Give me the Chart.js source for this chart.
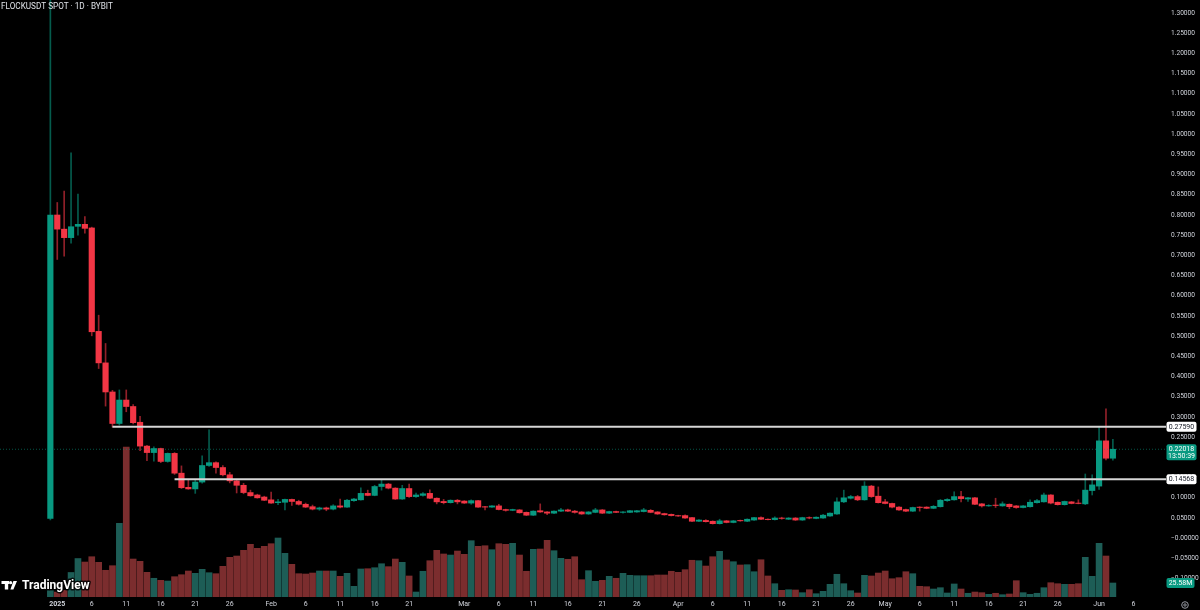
<!DOCTYPE html>
<html><head><meta charset="utf-8">
<script src="https://cdn.jsdelivr.net/npm/chart.js@4.4.1/dist/chart.umd.min.js"></script>
<style>html,body{margin:0;padding:0;background:#000;overflow:hidden}#wrap{width:1200px;height:610px}canvas{display:block}</style>
</head><body><div id="wrap"><canvas id="c" width="1200" height="610"></canvas></div>
<script>
const chartTitle = 'FLOCKUSDT SPOT \u00b7 1D \u00b7 BYBIT';
const firstDay = -1; // 31 Dec 2024, days counted from 1 Jan 2025
const opens = [
 0.049,0.800,0.765,0.744,0.772,0.777,0.768,0.512,0.434,0.362,
 0.284,0.342,0.326,0.287,0.228,0.212,0.222,0.190,0.210,0.161,
 0.126,0.122,0.139,0.180,0.187,0.175,0.157,0.142,0.131,0.113,
 0.107,0.102,0.095,0.088,0.089,0.096,0.091,0.084,0.078,0.072,
 0.075,0.072,0.080,0.077,0.093,0.095,0.111,0.106,0.128,0.134,
 0.124,0.097,0.123,0.103,0.106,0.111,0.099,0.091,0.088,0.094,
 0.092,0.087,0.093,0.078,0.077,0.080,0.071,0.069,0.070,0.064,
 0.057,0.068,0.065,0.062,0.067,0.070,0.067,0.065,0.060,0.064,
 0.070,0.062,0.066,0.064,0.064,0.065,0.066,0.069,0.065,0.061,
 0.059,0.056,0.056,0.051,0.042,0.044,0.042,0.036,0.043,0.039,
 0.044,0.042,0.045,0.051,0.047,0.046,0.050,0.047,0.050,0.045,
 0.051,0.049,0.050,0.055,0.060,0.090,0.099,0.103,0.095,0.129,
 0.104,0.090,0.086,0.077,0.071,0.067,0.077,0.077,0.074,0.078,
 0.093,0.095,0.103,0.097,0.100,0.085,0.080,0.082,0.080,0.084,
 0.080,0.076,0.078,0.088,0.090,0.107,0.089,0.083,0.090,0.087,
 0.085,0.118,0.129,0.241,0.198];
const highs = [
 1.340,0.831,0.859,0.954,0.852,0.796,0.770,0.552,0.482,0.366,
 0.367,0.367,0.331,0.302,0.230,0.226,0.223,0.211,0.212,0.179,
 0.146,0.145,0.204,0.268,0.189,0.180,0.163,0.145,0.136,0.119,
 0.109,0.104,0.114,0.096,0.097,0.097,0.094,0.087,0.082,0.077,
 0.077,0.083,0.097,0.096,0.099,0.125,0.119,0.131,0.144,0.136,
 0.125,0.131,0.134,0.112,0.113,0.120,0.100,0.096,0.095,0.096,
 0.093,0.095,0.094,0.079,0.081,0.084,0.072,0.072,0.071,0.065,
 0.068,0.085,0.066,0.068,0.074,0.072,0.069,0.066,0.066,0.074,
 0.071,0.067,0.067,0.066,0.069,0.069,0.074,0.071,0.066,0.062,
 0.060,0.057,0.058,0.052,0.046,0.046,0.043,0.047,0.044,0.044,
 0.045,0.048,0.052,0.053,0.048,0.053,0.052,0.051,0.051,0.052,
 0.053,0.053,0.059,0.063,0.100,0.119,0.106,0.106,0.140,0.131,
 0.127,0.096,0.087,0.078,0.072,0.077,0.078,0.078,0.081,0.096,
 0.098,0.115,0.116,0.101,0.101,0.086,0.083,0.099,0.090,0.085,
 0.081,0.081,0.095,0.096,0.112,0.108,0.090,0.092,0.091,0.095,
 0.159,0.157,0.275,0.320,0.245];
const lows = [
 0.045,0.690,0.698,0.730,0.750,0.755,0.501,0.420,0.327,0.275,
 0.280,0.313,0.283,0.217,0.192,0.191,0.187,0.188,0.158,0.123,
 0.121,0.111,0.136,0.178,0.161,0.154,0.137,0.112,0.110,0.104,
 0.099,0.093,0.086,0.083,0.070,0.081,0.082,0.076,0.070,0.069,
 0.068,0.070,0.075,0.076,0.091,0.094,0.105,0.105,0.119,0.122,
 0.096,0.096,0.101,0.101,0.104,0.098,0.085,0.085,0.087,0.085,
 0.086,0.084,0.076,0.070,0.076,0.070,0.067,0.068,0.062,0.056,
 0.056,0.064,0.058,0.061,0.066,0.066,0.062,0.059,0.059,0.063,
 0.061,0.061,0.063,0.062,0.063,0.064,0.065,0.063,0.059,0.057,
 0.055,0.054,0.049,0.041,0.041,0.040,0.035,0.035,0.038,0.038,
 0.042,0.041,0.044,0.046,0.045,0.045,0.047,0.046,0.044,0.044,
 0.048,0.048,0.049,0.054,0.059,0.088,0.097,0.093,0.094,0.101,
 0.087,0.085,0.075,0.069,0.066,0.066,0.067,0.073,0.073,0.077,
 0.091,0.094,0.090,0.091,0.083,0.077,0.079,0.076,0.079,0.073,
 0.074,0.075,0.077,0.087,0.089,0.085,0.082,0.082,0.085,0.085,
 0.083,0.107,0.121,0.194,0.193];
const closes = [
 0.800,0.765,0.744,0.771,0.777,0.767,0.511,0.434,0.362,0.284,
 0.342,0.326,0.286,0.228,0.212,0.222,0.190,0.210,0.161,0.125,
 0.122,0.139,0.180,0.187,0.175,0.157,0.142,0.131,0.113,0.105,
 0.100,0.094,0.087,0.090,0.096,0.091,0.084,0.077,0.072,0.075,
 0.072,0.080,0.077,0.094,0.097,0.111,0.106,0.128,0.134,0.124,
 0.097,0.123,0.103,0.107,0.110,0.099,0.090,0.088,0.094,0.090,
 0.087,0.093,0.077,0.077,0.080,0.071,0.069,0.071,0.063,0.057,
 0.067,0.065,0.062,0.067,0.070,0.067,0.064,0.060,0.065,0.070,
 0.062,0.066,0.064,0.065,0.068,0.068,0.070,0.064,0.060,0.058,
 0.056,0.055,0.050,0.042,0.045,0.041,0.036,0.043,0.039,0.043,
 0.043,0.047,0.051,0.047,0.046,0.050,0.049,0.050,0.045,0.051,
 0.050,0.052,0.057,0.062,0.090,0.100,0.103,0.095,0.129,0.103,
 0.088,0.086,0.077,0.070,0.067,0.076,0.076,0.074,0.079,0.094,
 0.096,0.103,0.098,0.100,0.084,0.080,0.081,0.081,0.085,0.078,
 0.076,0.080,0.089,0.093,0.107,0.087,0.083,0.091,0.086,0.086,
 0.119,0.132,0.241,0.198,0.22018];
const volumes = [ // millions
 12.2,9.1,12.2,44.8,70.3,63.9,73.6,63.4,48.8,57.2,
 134.6,274.1,69.4,65.2,45.1,34.2,30.5,29.2,37.1,40.7,
 47.5,43.3,50.6,44.4,42.6,56.1,72.5,74.9,85.3,96.3,
 89.0,92.6,97.4,107.8,79.8,59.7,42.6,42.0,43.8,47.5,
 47.5,47.5,37.8,43.3,19.5,51.2,51.7,53.5,60.8,55.4,
 69.4,63.4,38.4,9.1,47.0,66.3,85.3,78.6,76.7,84.0,
 78.0,102.9,92.6,93.7,86.4,97.4,96.3,98.1,76.7,47.0,
 87.1,87.7,103.6,84.6,70.7,68.9,73.6,31.6,48.1,28.7,
 30.5,37.8,34.2,43.3,39.6,38.9,38.9,38.9,40.2,40.2,
 47.0,45.1,49.9,67.1,66.3,56.6,73.6,83.5,67.6,64.5,
 58.5,59.0,46.2,68.1,38.4,24.3,12.2,13.3,12.8,7.9,
 13.3,6.0,10.4,23.2,41.5,24.3,11.5,7.3,39.6,38.4,
 43.8,47.5,33.4,35.3,46.2,42.6,19.5,18.8,14.6,17.0,
 7.3,23.8,14.6,6.8,9.1,7.9,4.9,6.8,4.2,5.5,
 29.8,7.9,4.9,6.8,17.0,26.1,24.3,23.2,23.2,24.3,
 72.5,37.8,98.1,74.9,25.58];
const tickDays   = [0,5,10,15,20,25,31,36,41,46,51,59,64,69,74,79,84,90,95,100,105,110,115,120,125,130,135,140,145,151,156];
const tickLabels = ['2025','6','11','16','21','26','Feb','6','11','16','21','Mar','6','11','16','21','26','Apr','6','11','16','21','26','May','6','11','16','21','26','Jun','6'];
const priceTicks = [-0.10,-0.05,0,0.05,0.10,0.15,0.20,0.25,0.30,0.35,0.40,0.45,0.50,0.55,0.60,0.65,0.70,0.75,0.80,0.85,0.90,0.95,1.00,1.05,1.10,1.15,1.20,1.25,1.30];
const levelValues = [0.27590, 0.14568];
const levelStartDays = [8, 17];
const countdownText = '13:50:39';
const volumeTagText = '25.58M';

const FONT = 'Roboto, "Liberation Sans", sans-serif';
const GREEN = '#089981', RED = '#f23645';
const GREEN_WICK = 'rgba(8,153,129,0.6)', RED_WICK = 'rgba(242,54,69,0.6)';
const GREEN_VOL = '#1d5d56', RED_VOL = '#7b2d2e';
const X_MIN = -8.3, X_MAX = 160.7;

const days = opens.map((_, i) => firstDay + i);
const up = opens.map((o, i) => closes[i] >= o);
const lastClose = closes[closes.length - 1];
const lastVol = volumes[volumes.length - 1];

function tag(c, x, y, lines, bg, fg, w) {
  const h = lines.length > 1 ? 16 : 10;
  const top = y - 5;
  c.fillStyle = bg;
  c.beginPath();
  if (c.roundRect) c.roundRect(x + 0.5, top, w, h, 2); else c.rect(x + 0.5, top, w, h);
  c.fill();
  c.fillStyle = fg;
  c.font = '7px ' + FONT;
  c.textAlign = 'center';
  c.textBaseline = 'middle';
  lines.forEach((t, i) => c.fillText(t, x + 0.5 + w / 2, y + i * 7 + 0.3));
}

const overlay = {
  id: 'overlay',
  beforeDraw(chart) {
    const c = chart.ctx; c.save(); c.fillStyle = '#000'; c.fillRect(0, 0, chart.width, chart.height); c.restore();
  },
  afterDraw(chart) {
    const c = chart.ctx, ys = chart.scales.y, yv = chart.scales.vol, a = chart.chartArea;
    c.save();
    c.font = '8.2px ' + FONT; c.fillStyle = '#dfe2e8'; c.textAlign = 'left'; c.textBaseline = 'middle';
    c.fillText(chartTitle, 1, 6.5);
    levelValues.forEach(v => tag(c, a.right, ys.getPixelForValue(v), [v.toFixed(5)], '#ffffff', '#131722', 30));
    tag(c, a.right, ys.getPixelForValue(lastClose), [lastClose.toFixed(5), countdownText], GREEN, '#ffffff', 30);
    tag(c, a.right, yv.getPixelForValue(lastVol), [volumeTagText], GREEN, '#ffffff', 28);
    // TradingView logo
    c.font = 'bold 12px ' + FONT; c.textAlign = 'left'; c.textBaseline = 'middle';
    c.lineWidth = 3; c.strokeStyle = 'rgba(0,0,0,0.85)'; c.lineJoin = 'round';
    c.strokeText('TradingView', 22, 585.5);
    c.fillStyle = '#ffffff'; c.fillText('TradingView', 22, 585.5);
    c.fillRect(1.5, 581, 7.5, 3); c.fillRect(4.8, 581, 3.4, 8.5);
    c.beginPath(); c.arc(10.6, 582.7, 1.6, 0, Math.PI * 2); c.fill();
    c.beginPath(); c.moveTo(13.4, 581); c.lineTo(17, 581); c.lineTo(13.4, 589.5); c.lineTo(10.4, 589.5); c.closePath(); c.fill();
    // settings icon
    c.strokeStyle = '#9598a1'; c.lineWidth = 1;
    c.beginPath(); c.arc(1185, 605, 3.3, 0, Math.PI * 2); c.stroke();
    c.beginPath(); c.arc(1185, 605, 1.2, 0, Math.PI * 2); c.stroke();
    c.restore();
  }
};

const levelSets = levelValues.map((v, i) => ({
  type: 'line', data: [{x: levelStartDays[i], y: v}, {x: X_MAX, y: v}],
  borderColor: '#d6d6d6', borderWidth: 2, pointRadius: 0, fill: false, tension: 0, yAxisID: 'y', order: 0
}));

new Chart(document.getElementById('c'), {
  type: 'bar',
  data: {
    datasets: [
      ...levelSets,
      { type: 'line', data: [{x: X_MIN, y: lastClose}, {x: X_MAX, y: lastClose}], borderColor: 'rgba(8,153,129,0.55)',
        borderWidth: 1, borderDash: [1, 2], pointRadius: 0, fill: false, yAxisID: 'y', order: 1 },
      { data: days.map((d, i) => ({x: d, y: [opens[i], closes[i]]})), backgroundColor: up.map(u => u ? GREEN : RED),
        barThickness: 5.5, grouped: false, yAxisID: 'y', order: 2, borderWidth: 0 },
      { data: days.map((d, i) => ({x: d, y: [lows[i], highs[i]]})), backgroundColor: up.map(u => u ? GREEN_WICK : RED_WICK),
        barThickness: 1, grouped: false, yAxisID: 'y', order: 3, borderWidth: 0 },
      { data: days.map((d, i) => ({x: d, y: volumes[i]})), backgroundColor: up.map(u => u ? GREEN_VOL : RED_VOL),
        barThickness: 6, grouped: false, yAxisID: 'vol', order: 4, borderWidth: 0 }
    ]
  },
  options: {
    responsive: false, animation: false, devicePixelRatio: 1, events: [],
    layout: { padding: 0 },
    plugins: { legend: { display: false }, tooltip: { enabled: false }, title: { display: false } },
    scales: {
      x: {
        type: 'linear', min: X_MIN, max: X_MAX, offset: false,
        afterBuildTicks: s => { s.ticks = tickDays.map(v => ({ value: v })); },
        afterFit: s => { s.height = 13; s.paddingLeft = 0; s.paddingRight = 0; },
        grid: { display: false, drawTicks: false }, border: { display: false },
        ticks: {
          autoSkip: false, maxRotation: 0, padding: 3, color: '#d1d4dc',
          font: ctx => ({ family: FONT, size: 7, weight: (ctx.tick && ctx.tick.value === 0) ? 'bold' : 'normal' }),
          callback: v => tickLabels[tickDays.indexOf(v)]
        }
      },
      y: {
        type: 'linear', position: 'right', min: -0.1455, max: 1.3322,
        afterBuildTicks: s => { s.ticks = priceTicks.map(v => ({ value: v })); },
        afterFit: s => { s.width = 34; s.paddingTop = 0; s.paddingBottom = 0; },
        grid: { display: false, drawTicks: false }, border: { display: false },
        ticks: {
          padding: 5, crossAlign: 'near', color: '#d1d4dc', font: { family: FONT, size: 6.6 },
          callback: v => (v <= 0 ? '\u2212' : '') + Math.abs(v).toFixed(5)
        }
      },
      vol: { type: 'linear', display: false, min: 0, max: 1091 }
    }
  },
  plugins: [overlay]
});
</script>
</body></html>
